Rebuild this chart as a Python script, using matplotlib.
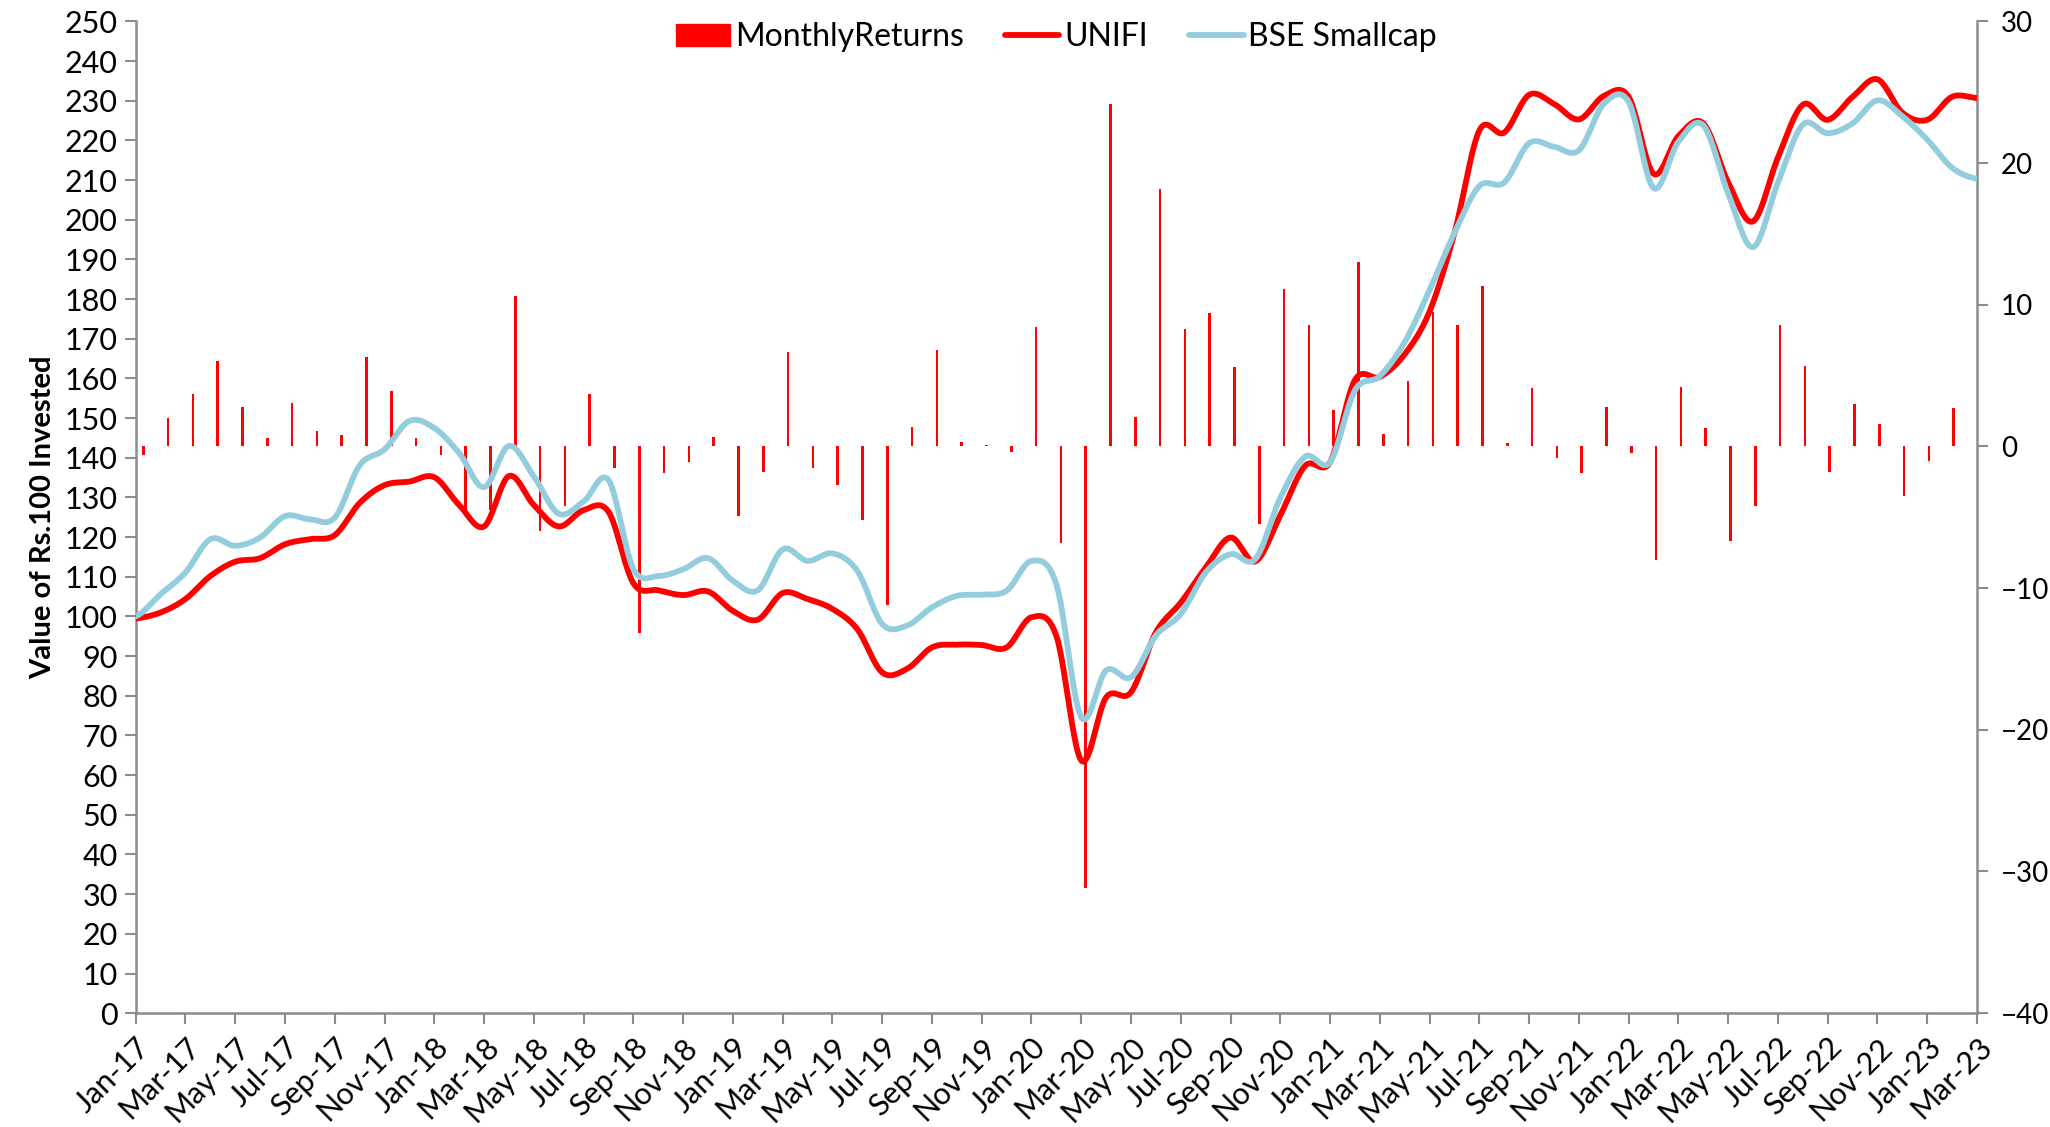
import numpy as np
import matplotlib
matplotlib.use('Agg')
import matplotlib.pyplot as plt
from matplotlib.patches import Patch
from matplotlib.lines import Line2D

# month labels Jan-17 .. Mar-23
mon_names = ["Jan", "Feb", "Mar", "Apr", "May", "Jun", "Jul", "Aug", "Sep", "Oct", "Nov", "Dec"]
months = [m + "-" + str(y) for y in range(17, 24) for m in mon_names][:75]

# value of Rs.100 invested
unifi = [99.5, 101.0, 104.4, 110.2, 113.8, 114.7, 118.2, 119.5, 120.5, 128.6,
         133.1, 134.0, 135.1, 128.1, 122.7, 135.4, 128.1, 122.7, 126.8, 126.4,
         108.4, 106.6, 105.4, 106.3, 101.4, 99.2, 105.9, 104.4, 101.9, 96.8,
         85.9, 86.8, 92.2, 92.9, 92.8, 92.2, 99.8, 95.1, 63.7, 79.6,
         80.9, 96.0, 103.5, 112.3, 119.9, 113.9, 125.5, 138.0, 138.9, 159.6,
         160.4, 166.1, 176.9, 196.7, 222.5, 222.0, 231.5, 229.2, 225.3, 231.2,
         231.0, 211.6, 221.1, 224.3, 209.4, 199.6, 215.7, 229.0, 225.2, 231.0,
         235.4, 227.0, 225.2, 231.0, 230.7]

bse_smallcap = [100.0, 105.6, 111.1, 119.5, 117.8, 119.9, 125.3, 124.5, 124.9, 138.1,
                142.1, 149.3, 147.5, 141.2, 132.6, 143.0, 135.3, 125.9, 129.0, 134.4,
                112.0, 110.2, 111.9, 114.7, 109.0, 106.6, 116.9, 114.0, 115.9, 111.5,
                98.1, 97.7, 102.3, 105.2, 105.5, 106.5, 114.0, 108.1, 74.6, 86.4,
                84.7, 95.2, 100.6, 111.1, 115.7, 114.5, 129.9, 140.3, 138.9, 157.0,
                160.6, 169.2, 182.3, 196.7, 208.5, 209.4, 219.3, 218.4, 217.5, 229.2,
                229.7, 208.0, 219.7, 223.8, 206.6, 193.1, 209.4, 224.0, 221.8, 224.3,
                230.1, 226.1, 220.2, 213.1, 210.3]

# monthly returns (%), right axis
monthly_returns = [-0.6, 2.0, 3.7, 6.0, 2.8, 0.6, 3.1, 1.1, 0.8, 6.3,
                   3.9, 0.6, -0.6, -4.7, -4.5, 10.6, -6.0, -4.2, 3.7, -1.5,
                   -13.2, -1.9, -1.1, 0.7, -4.9, -1.8, 6.7, -1.5, -2.7, -5.2,
                   -11.2, 1.4, 6.8, 0.3, 0.1, -0.4, 8.4, -6.8, -31.2, 24.2,
                   2.1, 18.2, 8.3, 9.4, 5.6, -5.5, 11.1, 8.6, 2.6, 13.0,
                   0.9, 4.6, 9.5, 8.6, 11.3, 0.25, 4.1, -0.8, -1.9, 2.8,
                   -0.45, -8.0, 4.2, 1.3, -6.7, -4.2, 8.6, 5.7, -1.8, 3.0,
                   1.6, -3.5, -1.0, 2.7]

RED = "#FF0000"
BLUE = "#93CDDD"
GREY = "#8C8C8C"
FS = 22


def smooth(y, n=24):
    # excel style smoothed line (catmull-rom between points)
    y = np.asarray(y, float)
    p = np.concatenate([[y[0]], y, [y[-1]]])
    xs, ys = [], []
    t = np.linspace(0, 1, n, endpoint=False)
    for i in range(len(y) - 1):
        p0, p1, p2, p3 = p[i], p[i + 1], p[i + 2], p[i + 3]
        b1 = p1 + (p2 - p0) / 6.0
        b2 = p2 - (p3 - p1) / 6.0
        yy = (1 - t) ** 3 * p1 + 3 * (1 - t) ** 2 * t * b1 + 3 * (1 - t) * t ** 2 * b2 + t ** 3 * p2
        xs.extend(i + t)
        ys.extend(yy)
    xs.append(len(y) - 1)
    ys.append(y[-1])
    return np.array(xs), np.array(ys)


plt.rcParams['font.family'] = ['Lato', 'DejaVu Sans']

fig = plt.figure(figsize=(20.5, 11.27), dpi=100)
pos = [0.0662, 0.101, 0.8982, 0.880]

# bars on secondary axes (drawn first, below lines)
axb = fig.add_axes(pos)
axb.bar(np.arange(len(monthly_returns)), monthly_returns, width=0.11, color=RED, zorder=1)
axb.set_xlim(-0.306, 73.94)
axb.set_ylim(-40, 30)
axb.set_yticks(np.arange(-40, 31, 10))
axb.yaxis.tick_right()
axb.tick_params(axis='y', labelsize=20, colors=GREY, labelcolor='black', length=8, width=1.5, pad=9)
axb.set_xticks([])
for s in ['top', 'left', 'bottom']:
    axb.spines[s].set_visible(False)
axb.spines['right'].set_color(GREY)
axb.spines['right'].set_linewidth(1.8)

# lines on primary axes
ax = fig.add_axes(pos)
ax.patch.set_alpha(0)
x = np.arange(len(months))
xs, ys = smooth(unifi)
ax.plot(xs, ys, color=RED, lw=4.2, solid_capstyle='round', zorder=3)
xs, ys = smooth(bse_smallcap)
ax.plot(xs, ys, color=BLUE, lw=4.2, solid_capstyle='round', zorder=4)
ax.set_xlim(0, 74)
ax.set_ylim(0, 250)
ax.set_yticks(np.arange(0, 251, 10))
ax.set_xticks(x[::2])
ax.set_xticklabels(months[::2], rotation=45, ha='right', rotation_mode='anchor', fontsize=FS)
ax.tick_params(axis='y', labelsize=FS, colors=GREY, labelcolor='black', length=8, width=1.5, pad=5)
ax.tick_params(axis='x', colors=GREY, labelcolor='black', length=8, width=1.5, pad=6)
ax.set_ylabel("Value of Rs.100 Invested", fontsize=21, fontweight='bold', labelpad=6)
for s in ['top', 'right']:
    ax.spines[s].set_visible(False)
for s in ['left', 'bottom']:
    ax.spines[s].set_color(GREY)
    ax.spines[s].set_linewidth(1.8)

handles = [Patch(color=RED, label="MonthlyReturns"),
           Line2D([], [], color=RED, lw=4.2, solid_capstyle='round', label="UNIFI"),
           Line2D([], [], color=BLUE, lw=4.2, solid_capstyle='round', label="BSE Smallcap")]
ax.legend(handles=handles, loc='center', bbox_to_anchor=(0.5, 0.984), ncol=3, frameon=False,
          fontsize=23, handlelength=1.7, handletextpad=0.15, columnspacing=1.3,
          borderaxespad=0, borderpad=0)

fig.savefig("out.png", dpi=100)
